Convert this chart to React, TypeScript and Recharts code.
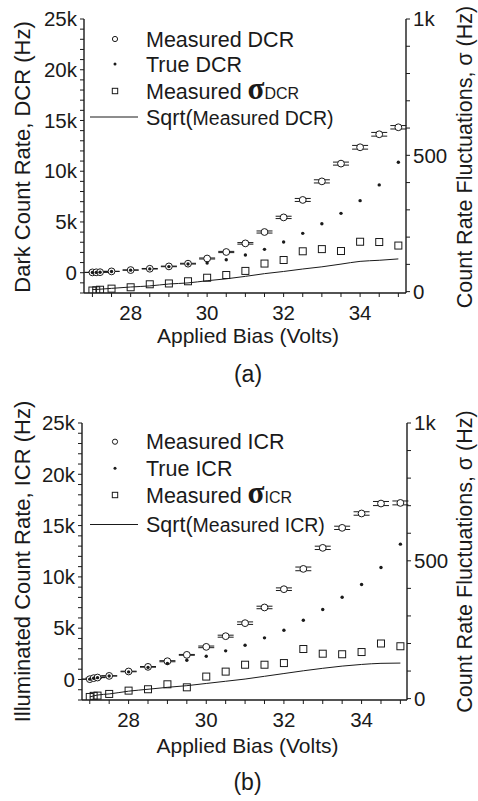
import React from 'react'
import { ComposedChart, Scatter, Line, XAxis, YAxis, ErrorBar, Legend } from 'recharts'

const bias = [27.0, 27.1, 27.2, 27.5, 28, 28.5, 29, 29.5, 30, 30.5, 31, 31.5, 32, 32.5, 33, 33.5, 34, 34.5, 35]

// panel (a) dark counts
const measuredDCR = [30, 40, 50, 130, 260, 390, 620, 890, 1400, 2040, 2890, 4010, 5450, 7170, 9000, 10750, 12360, 13640, 14330]
const trueDCR = [20, 30, 40, 125, 250, 375, 600, 860, 960, 1280, 1740, 2300, 3030, 3880, 4830, 5850, 7100, 8650, 10880]
const sigmaDCR = [4, 5, 7, 11, 16, 27, 30, 38, 51, 61, 76, 103, 116, 148, 156, 149, 183, 182, 169]
const sqrtDCR = [8, 8, 9, 12, 17, 21, 28, 32, 40, 47, 56, 66, 74, 83, 91, 101, 111, 115, 120]

// panel (b) illuminated counts
const measuredICR = [30, 130, 190, 350, 780, 1230, 1780, 2400, 3180, 4220, 5490, 7020, 8800, 10780, 12830, 14780, 16180, 17150, 17210]
const trueICR = [30, 120, 180, 340, 740, 1180, 1560, 1880, 2270, 2790, 3340, 4060, 4800, 5780, 6820, 8020, 9260, 10920, 13190]
const sigmaICR = [6, 10, 11, 17, 29, 34, 52, 41, 80, 98, 123, 123, 129, 180, 163, 161, 169, 200, 190]
const sqrtICR = [6, 10, 13, 17, 27, 34, 41, 47, 55, 63, 71, 81, 91, 101, 110, 118, 124, 128, 129]

const xTicks = [27, 27.5, 28, 28.5, 29, 29.5, 30, 30.5, 31, 31.5, 32, 32.5, 33, 33.5, 34, 34.5, 35]
const leftTicks = [-2000, -1000, 0, 1000, 2000, 3000, 4000, 5000, 6000, 7000, 8000, 9000, 10000, 11000, 12000, 13000, 14000, 15000, 16000, 17000, 18000, 19000, 20000, 21000, 22000, 23000, 24000, 25000]
const rightTicks = [0, 100, 200, 300, 400, 500, 600, 700, 800, 900, 1000]

const FONT = '"Liberation Sans", Arial, Helvetica, sans-serif'
const INK = '#1a1a1a'

const fmtX = (v: number) => (v % 2 === 0 ? String(v) : '')
const fmtLeft = (v: number) => (v < 0 || v % 5000 !== 0 ? '' : v === 0 ? '0' : `${v / 1000}k`)
const fmtRight = (v: number) => (v === 0 ? '0' : v === 500 ? '500' : v === 1000 ? '1k' : '')

function rows(m: number[], t: number[], s: number[], q: number[]) {
  return bias.map((b, i) => ({ bias: b, measured: m[i], trueRate: t[i], sigma: s[i], err: s[i], sqrt: q[i] }))
}

const Circle = (p: any) => <circle cx={p.cx} cy={p.cy} r={3.4} fill="#fff" stroke={INK} strokeWidth={1} />
const Dot = (p: any) => <circle cx={p.cx} cy={p.cy} r={1.7} fill={INK} />
const Square = (p: any) => (
  <rect x={p.cx - 3.5} y={p.cy - 3.5} width={7} height={7} fill="none" stroke={INK} strokeWidth={1} />
)

function XTitle({ cx, y1, tag, y2 }: any) {
  return (
    <g>
      <text x={cx} y={y1} textAnchor="middle" fontFamily={FONT} fontSize={21} fill={INK}>
        Applied Bias (Volts)
      </text>
      <text x={cx} y={y2} textAnchor="middle" fontFamily={FONT} fontSize={23} fill={INK}>
        {tag}
      </text>
    </g>
  )
}

function YTitle({ tx, ty, text, size }: any) {
  return (
    <text
      x={tx}
      y={ty}
      transform={`rotate(-90 ${tx} ${ty})`}
      textAnchor="middle"
      fontFamily={FONT}
      fontSize={size}
      fill={INK}
    >
      {text}
    </text>
  )
}

function LegendBox({ ys, name }: { ys: number[]; name: string }) {
  const mx = 115
  const tx = 146
  return (
    <svg width={478} height={150} style={{ position: 'absolute', left: 0, top: 0 }}>
      <circle cx={mx} cy={ys[0]} r={2.6} fill="#fff" stroke={INK} />
      <circle cx={mx} cy={ys[1]} r={1.5} fill={INK} />
      <rect x={mx - 2.7} y={ys[2] - 2.7} width={5.4} height={5.4} fill="none" stroke={INK} />
      <line x1={90} x2={138} y1={ys[3]} y2={ys[3]} stroke={INK} strokeWidth={1} />
      <g fontFamily={FONT} fontSize={21.5} fill={INK}>
        <text x={tx} y={ys[0] + 7.5}>Measured {name}</text>
        <text x={tx} y={ys[1] + 7.5}>True {name}</text>
        <text x={tx} y={ys[2] + 7.5}>
          Measured{' '}
          <tspan fontFamily='"Liberation Serif", serif' fontWeight="bold" fontSize={31}>
            σ
          </tspan>
          <tspan fontSize={16}>{name}</tspan>
        </text>
        <text x={tx} y={ys[3] + 7.5}>
          Sqrt(<tspan fontSize={19.5}>Measured {name})</tspan>
        </text>
      </g>
    </svg>
  )
}

interface PanelProps {
  data: ReturnType<typeof rows>
  name: string
  tag: string
  leftTitle: string
  top: number
  margin: { top: number; bottom: number }
  leftW: number
  rightW: number
  xDomain: [number, number]
  legendYs: number[]
  titleY: [number, number]
  midY: number
}

function Panel(p: PanelProps) {
  const plotCx = (p.leftW + 478 - p.rightW) / 2 + 3
  const axisLine = { stroke: INK, strokeWidth: 1.4 }
  return (
    <div style={{ position: 'absolute', left: 0, top: p.top }}>
      <ComposedChart
        width={478}
        height={400}
        data={p.data}
        margin={{ top: p.margin.top, right: 0, bottom: p.margin.bottom, left: 0 }}
      >
        <XAxis
          xAxisId="top"
          orientation="top"
          type="number"
          dataKey="bias"
          domain={p.xDomain}
          ticks={xTicks}
          tick={false}
          height={0}
          mirror
          tickSize={4}
          stroke={INK}
          axisLine={axisLine}
          allowDataOverflow
        />
        <XAxis
          xAxisId="bottom"
          type="number"
          dataKey="bias"
          domain={p.xDomain}
          ticks={xTicks}
          tickFormatter={fmtX}
          interval={0}
          height={60}
          tickSize={4}
          tickMargin={8}
          stroke={INK}
          axisLine={axisLine}
          tick={{ fontFamily: FONT, fontSize: 20.5, fill: INK }}
          allowDataOverflow
          label={<XTitle cx={plotCx} y1={p.titleY[0]} y2={p.titleY[1]} tag={p.tag} />}
        />
        <YAxis
          yAxisId="left"
          type="number"
          domain={[-2000, 25000]}
          ticks={leftTicks}
          tickFormatter={fmtLeft}
          interval={0}
          width={p.leftW}
          tickSize={4}
          tickMargin={3}
          stroke={INK}
          axisLine={axisLine}
          tick={{ fontFamily: FONT, fontSize: 20.5, fill: INK }}
          allowDataOverflow
          label={<YTitle tx={30} ty={p.midY} text={p.leftTitle} size={22} />}
        />
        <YAxis
          yAxisId="right"
          orientation="right"
          type="number"
          domain={[-5, 1000]}
          ticks={rightTicks}
          tickFormatter={fmtRight}
          interval={0}
          width={p.rightW}
          tickSize={4}
          tickMargin={3}
          stroke={INK}
          axisLine={axisLine}
          tick={{ fontFamily: FONT, fontSize: 20.5, fill: INK }}
          allowDataOverflow
          label={<YTitle tx={472} ty={p.midY} text="Count Rate Fluctuations, σ (Hz)" size={21.5} />}
        />
        <Legend
          layout="vertical"
          align="center"
          verticalAlign="middle"
          wrapperStyle={{ position: 'absolute', left: 0, top: 0, width: 478, height: 150 }}
          content={() => <LegendBox ys={p.legendYs} name={p.name} />}
        />
        <Scatter xAxisId="bottom" yAxisId="left" dataKey="measured" shape={Circle} isAnimationActive={false}>
          <ErrorBar dataKey="err" direction="y" width={8} stroke={INK} strokeWidth={1} isAnimationActive={false} />
        </Scatter>
        <Scatter xAxisId="bottom" yAxisId="left" dataKey="trueRate" shape={Dot} isAnimationActive={false} />
        <Scatter xAxisId="bottom" yAxisId="right" dataKey="sigma" shape={Square} isAnimationActive={false} />
        <Line
          xAxisId="bottom"
          yAxisId="right"
          dataKey="sqrt"
          type="monotone"
          dot={false}
          stroke={INK}
          strokeWidth={1}
          isAnimationActive={false}
        />
      </ComposedChart>
    </div>
  )
}

export default function App() {
  return (
    <div style={{ position: 'absolute', left: 0, top: 0, width: 478, height: 801, background: '#fff' }}>
      <Panel
        data={rows(measuredDCR, trueDCR, sigmaDCR, sqrtDCR)}
        name="DCR"
        tag="(a)"
        leftTitle="Dark Count Rate, DCR (Hz)"
        top={0}
        margin={{ top: 19, bottom: 47 }}
        leftW={84}
        rightW={72}
        xDomain={[26.78, 35.2]}
        legendYs={[39, 64, 91, 117]}
        titleY={[343, 382]}
        midY={157}
      />
      <Panel
        data={rows(measuredICR, trueICR, sigmaICR, sqrtICR)}
        name="ICR"
        tag="(b)"
        leftTitle="Illuminated Count Rate, ICR (Hz)"
        top={400}
        margin={{ top: 23, bottom: 40 }}
        leftW={82}
        rightW={71}
        xDomain={[26.8, 35.17]}
        legendYs={[41.7, 68.3, 95, 124.5]}
        titleY={[353, 390]}
        midY={161.5}
      />
    </div>
  )
}
